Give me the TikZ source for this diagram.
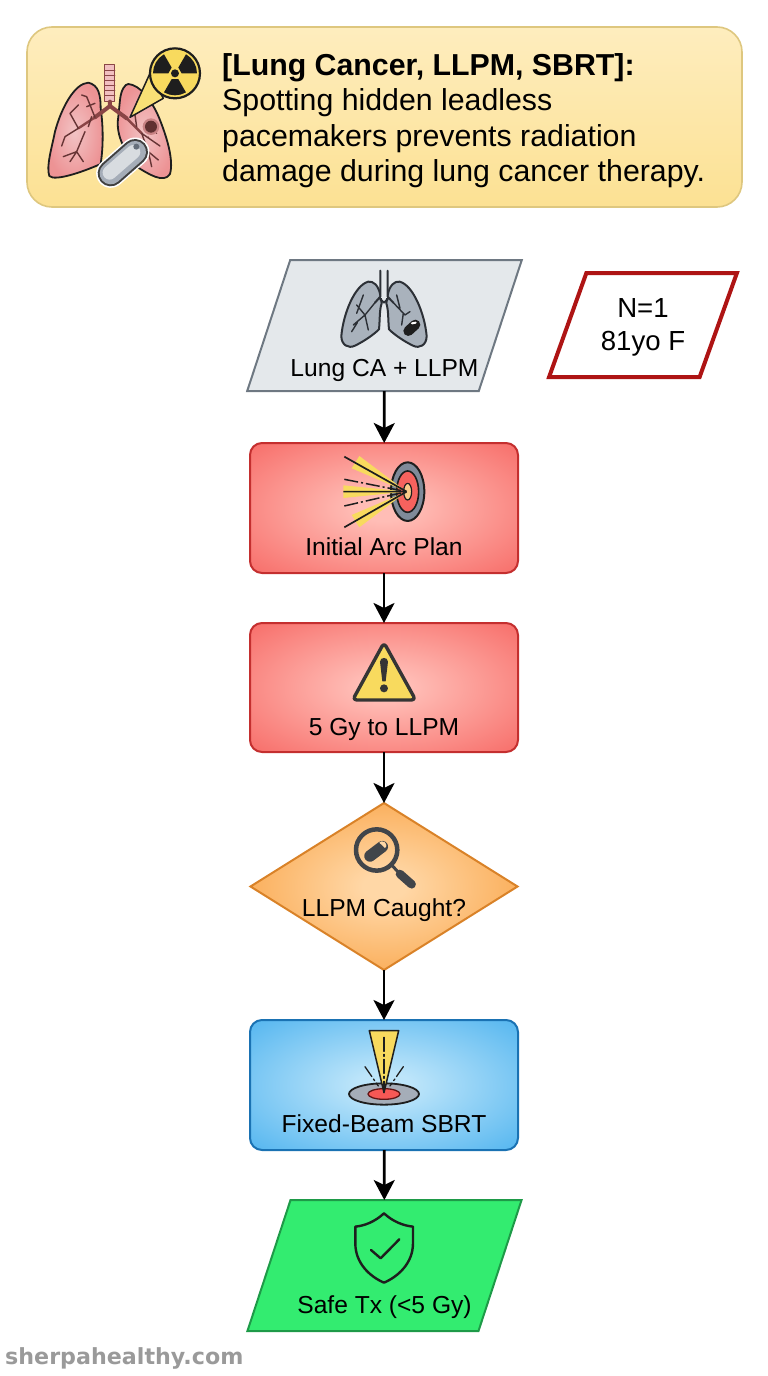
\documentclass[tikz,border=0pt]{standalone}
\usepackage{fontspec}
\setmainfont{Liberation Sans}
\newfontfamily\wmfont{DejaVu Sans}
\usetikzlibrary{shapes.geometric,arrows.meta}
\definecolor{iconink}{HTML}{1E1E1E}
\definecolor{lungpink}{HTML}{EBA3A5}
\definecolor{lungdark}{HTML}{8A4546}
\definecolor{beamyel}{HTML}{F8DA5E}
\definecolor{steel}{HTML}{6E7882}
\definecolor{iconsteel}{HTML}{7F8A99}
\definecolor{lungsteel}{HTML}{A9B2BC}
\definecolor{slateink}{HTML}{2C3036}
\definecolor{headtop}{HTML}{FEEDBE}
\definecolor{headbot}{HTML}{FCE193}
\definecolor{headline}{HTML}{DEC77F}
\definecolor{inputfill}{HTML}{E4E8EB}
\definecolor{redin}{HTML}{FFBDB6}
\definecolor{redout}{HTML}{F6625E}
\definecolor{redline}{HTML}{C42F2F}
\definecolor{orin}{HTML}{FFD7A6}
\definecolor{orout}{HTML}{F9A040}
\definecolor{orline}{HTML}{D98228}
\definecolor{bluin}{HTML}{BDE5FA}
\definecolor{bluout}{HTML}{45AFEE}
\definecolor{bluline}{HTML}{1A72B3}
\definecolor{safefill}{HTML}{33EC70}
\definecolor{safeline}{HTML}{1E9A48}
\definecolor{popline}{HTML}{AE1414}
\definecolor{wmgray}{HTML}{9A9A9A}
\pgfdeclareradialshading{redglow}{\pgfpoint{0bp}{0bp}}{color(0bp)=(redin); color(5bp)=(redin); color(40bp)=(redout); color(100bp)=(redout)}
\pgfdeclareradialshading{orglow}{\pgfpoint{0bp}{0bp}}{color(0bp)=(orin); color(4bp)=(orin); color(34bp)=(orout); color(100bp)=(orout)}
\pgfdeclareradialshading{bluglow}{\pgfpoint{0bp}{0bp}}{color(0bp)=(bluin); color(5bp)=(bluin); color(40bp)=(bluout); color(100bp)=(bluout)}
\tikzset{
  x=1pt,y=-1pt,
  lbl/.style={font=\fontsize{24.6}{33}\selectfont,inner sep=0pt,outer sep=0pt,text depth=0pt,align=center},
  box/.style={lbl,rectangle,rounded corners=12pt,minimum width=268pt,minimum height=130pt,line width=2pt},
  redbox/.style={box,draw=redline,shade,shading=redglow},
  bluebox/.style={box,draw=bluline,shade,shading=bluglow},
  para/.style={lbl,trapezium,trapezium stretches=true,trapezium left angle=67.2,trapezium right angle=112.8,minimum width=275pt,minimum height=131pt,line width=2pt},
  flow/.style={-{Stealth[length=20pt,width=21pt,inset=5pt]},line width=2.8pt,black},
  iconz/.style 2 args={shift={(#1,#2)},x=0.3333pt,y=-0.3333pt,line join=round},
}
\begin{document}
\begin{tikzpicture}
\useasboundingbox (0,0) rectangle (768,1376);
\node[rectangle,rounded corners=25pt,minimum width=715pt,minimum height=180pt,line width=1.6pt,outer sep=0pt,draw=headline,top color=headtop,bottom color=headbot] (head) at (384.5,117) {};
\node[anchor=north west,inner sep=0pt,align=left,font=\fontsize{30.3}{35.5}\selectfont] (headtxt) at (222,53) {\textbf{[Lung Cancer, LLPM, SBRT]:}\\Spotting hidden leadless\\pacemakers prevents radiation\\damage during lung cancer therapy.};
\node[para,draw=steel,fill=inputfill,text height=102pt] (input) at (384.5,325.5) {Lung CA + LLPM};
\node[redbox,text height=94pt] (plan) at (384,508) {Initial Arc Plan};
\node[redbox,minimum height=129pt,text height=95pt] (warn) at (384,687.5) {5 Gy to LLPM};
\node[lbl,diamond,aspect=1.6,minimum width=267pt,minimum height=167pt,line width=2pt,draw=orline,shade,shading=orglow,text height=59pt] (caught) at (384,886.5) {LLPM Caught?};
\node[bluebox,text height=94pt] (sbrt) at (384,1085) {Fixed-Beam SBRT};
\node[para,draw=safeline,fill=safefill,text height=95pt] (safe) at (384.5,1265.5) {Safe Tx (<5 Gy)};
\node[lbl,font=\fontsize{27.6}{33}\selectfont,trapezium,trapezium stretches=true,trapezium left angle=61.9,trapezium right angle=118.1,minimum width=188pt,minimum height=104pt,line width=4pt,draw=popline,fill=white] (pop) at (643,325) {N=1\\81yo F};
\node[font=\wmfont\bfseries\fontsize{22.2}{26}\selectfont,text=wmgray,anchor=west,inner sep=0pt] (wm) at (5,1358) {sherpahealthy.com};
\draw[flow] (input) -- (plan);
\draw[flow] (plan) -- (warn);
\draw[flow] (warn) -- (caught);
\draw[flow] (caught) -- (sbrt);
\draw[flow] (sbrt) -- (safe);
% header lungs icon
\begin{scope}[iconz={20}{20},line cap=round]
 \draw[line width=1.8pt,draw=iconink,inner color=lungpink!65!white,outer color=lungpink!90!red] (242,265) .. controls (242,225) and (236,195) .. (205,188) .. controls (165,190) and (125,260) .. (105,335) .. controls (95,385) and (78,440) .. (88,468) .. controls (105,485) and (190,455) .. (242,432) .. controls (250,380) and (250,320) .. (242,265) -- cycle;
 \draw[line width=1.8pt,draw=iconink,inner color=lungpink!65!white,outer color=lungpink!90!red] (300,240) .. controls (303,210) and (315,192) .. (325,192) .. controls (360,195) and (395,240) .. (418,295) .. controls (440,350) and (462,420) .. (450,462) .. controls (432,492) and (385,462) .. (350,440) .. controls (320,400) and (285,350) .. (295,290) -- cycle;
 \draw[line width=1pt,draw=lungdark,fill=lungpink!70!white] (255,135) rectangle (285,245);
 \foreach \yy in {150,165,180,195,210,225}{\draw[line width=.9pt,draw=lungdark] (255,\yy) -- (285,\yy);}
 \draw[line width=4pt,draw=lungdark] (270,245) -- (270,258) (270,258) -- (225,292) (270,258) -- (320,295);
 \draw[line width=2.4pt,draw=lungdark] (225,292) -- (175,325) (320,295) -- (365,340);
 \draw[line width=1.4pt,draw=lungdark!75!black] (175,325) -- (135,350) (175,325) -- (150,280) (150,280)--(175,255) (225,292)--(200,230) (200,230)--(185,225) (200,260) -- (225,250) (195,335) -- (170,395) -- (130,410) (170,395) -- (150,425) (170,395)--(190,425) (205,320) -- (215,290) (135,350) -- (125,378);
 \draw[line width=1.4pt,draw=lungdark!75!black] (365,340) -- (420,378) (365,340) -- (385,395) -- (415,420) (385,395) -- (395,440) (350,320) -- (345,285);
 \fill[lungdark!35!lungpink] (393,320) circle (25);
 \fill[lungdark!70!black] (393,320) circle (18);
 \fill[lungdark!80!black] (385,352) circle (3) (410,340) circle (2);
 % callout and radiation disc
 \draw[line width=1.5pt,draw=iconink,fill=beamyel!85!white] (330,292) -- (390,160) -- (430,235) -- cycle;
 \draw[line width=2.2pt,draw=iconink,fill=beamyel] (465,160) circle (75);
 \fill[iconink] (465,160) circle (12);
 \foreach \aa in {90,210,330}{\fill[iconink,shift={(465,160)}] (\aa-30:20) -- (\aa-30:66) -- (\aa-15:66) -- (\aa:66) -- (\aa+15:66) -- (\aa+30:66) -- (\aa+30:20) -- cycle;}
 % capsule
 \draw[line width=29pt,white] (272,460) -- (345,396);
 \draw[line width=26pt,iconink!85] (272,460) -- (345,396);
 \draw[line width=22pt,iconsteel!70!white] (272,460) -- (345,396);
 \draw[line width=14pt,iconsteel!30!white] (269,458) -- (340,396);
 \fill[iconsteel!80!black] (349,380) circle (9);
\end{scope}
% gray lungs
\begin{scope}[iconz={240}{250},line cap=round]
 \draw[line width=2pt,draw=slateink,fill=lungsteel] (421,135) .. controls (415,105) and (400,93) .. (385,95) .. controls (345,105) and (310,190) .. (304,258) .. controls (304,285) and (325,297) .. (345,287) .. controls (370,275) and (400,255) .. (417,238) .. controls (420,210) and (418,180) .. (425,160) -- cycle;
 \draw[line width=2pt,draw=slateink,fill=lungsteel] (443,135) .. controls (449,105) and (464,93) .. (479,95) .. controls (519,105) and (554,190) .. (560,258) .. controls (560,285) and (539,297) .. (519,287) .. controls (494,275) and (464,255) .. (447,238) .. controls (444,210) and (446,180) .. (439,160) -- cycle;
 \fill[inputfill] (423,62) rectangle (441,145);
 \draw[line width=2pt,draw=slateink] (421,62) -- (421,140) -- (405,158) (443,62) -- (443,140) -- (460,158) (421,148) -- (432,158) -- (443,148);
 \draw[line width=1.4pt,draw=slateink] (405,158) -- (375,195) -- (340,225) (375,195) -- (350,165) (375,195) -- (385,240) (352,218) -- (335,245) (350,190)--(370,135) (460,158) -- (495,195) -- (510,185) (480,175) -- (470,135) (490,190) -- (485,225);
 \draw[line width=10pt,draw=iconink] (505,243) -- (526,224);
 \draw[line width=2pt,draw=white] (516,220) -- (527,218);
\end{scope}
% target icon
\begin{scope}[iconz={240}{250}]
 \draw[line width=2pt,draw=iconink,fill=iconsteel] (503,725) ellipse (50 and 88);
 \draw[line width=1.6pt,draw=iconink,fill=redout] (503,725) ellipse (33 and 62);
 \draw[line width=1.2pt,draw=iconink,fill=redin!50!beamyel] (503,725) ellipse (12 and 25);
 \fill[beamyel] (500,725) -- (358,618) -- (335,655) -- cycle;
 \fill[beamyel] (500,725) -- (310,706) -- (310,744) -- cycle;
 \fill[beamyel] (500,725) -- (335,795) -- (358,832) -- cycle;
 \draw[line width=1.7pt,draw=iconink] (500,725) -- (313,620) (500,725) -- (310,725) (500,725) -- (313,832);
 \draw[line width=1.5pt,draw=iconink,dash pattern=on 14pt off 3pt on 2pt off 3pt] (313,688) -- (500,725);
 \draw[line width=1.5pt,draw=iconink,dash pattern=on 14pt off 3pt on 2pt off 3pt] (313,768) -- (500,725);
\end{scope}
% warning icon
\begin{scope}[iconz={240}{620}]
 \draw[line width=3.4pt,draw=iconink!90,fill=beamyel,rounded corners=4pt] (432,68) -- (527,240) -- (338,240) -- cycle;
 \fill[iconink!90] (420,125) .. controls (420,110) and (444,110) .. (444,125) -- (437,184) -- (427,184) -- cycle;
 \fill[iconink!90] (432,205) circle (12);
\end{scope}
% magnifier icon
\begin{scope}[iconz={240}{620},line cap=round]
 \draw[line width=3pt,draw=slateink!90] (452,732) -- (480,762);
 \draw[line width=8.5pt,draw=slateink!90] (480,762) -- (515,793);
 \draw[line width=4.5pt,draw=slateink!90] (410,690) circle (62);
 \draw[line width=11.5pt,draw=slateink!90] (390,708) -- (427,680);
 \fill[orin] (425,664) .. controls (440,664) and (443,680) .. (435,684) -- (418,668) -- cycle;
\end{scope}
% fixed beam icon
\begin{scope}[iconz={240}{1010},line cap=round]
 \draw[line width=1.8pt,draw=iconink,fill=iconsteel!70!white] (432,252) ellipse (105 and 32);
 \draw[line width=1.3pt,draw=iconink!70!red,fill=redout!90!red] (432,252) ellipse (48 and 16);
 \draw[line width=1.5pt,draw=iconink,fill=beamyel] (388,62) -- (476,62) -- (432,248) -- cycle;
 \draw[line width=1.3pt,draw=iconink,dash pattern=on 14pt off 3pt on 2pt off 3pt] (432,82) -- (432,240);
 \draw[line width=1.3pt,draw=iconink,dash pattern=on 12pt off 3pt on 2pt off 3pt] (375,170) -- (415,228);
 \draw[line width=1.3pt,draw=iconink,dash pattern=on 12pt off 3pt on 2pt off 3pt] (490,170) -- (450,228);
\end{scope}
% shield icon
\begin{scope}[iconz={240}{1010},line cap=round]
 \draw[line width=2.4pt,draw=iconink] (432,610) .. controls (405,635) and (375,647) .. (346,650) -- (346,700) .. controls (346,760) and (390,800) .. (432,818) .. controls (474,800) and (519,760) .. (519,700) -- (519,650) .. controls (490,647) and (459,635) .. (432,610) -- cycle;
 \draw[line width=2.4pt,draw=iconink] (393,720) -- (422,745) -- (478,688);
\end{scope}
\end{tikzpicture}
\end{document}
